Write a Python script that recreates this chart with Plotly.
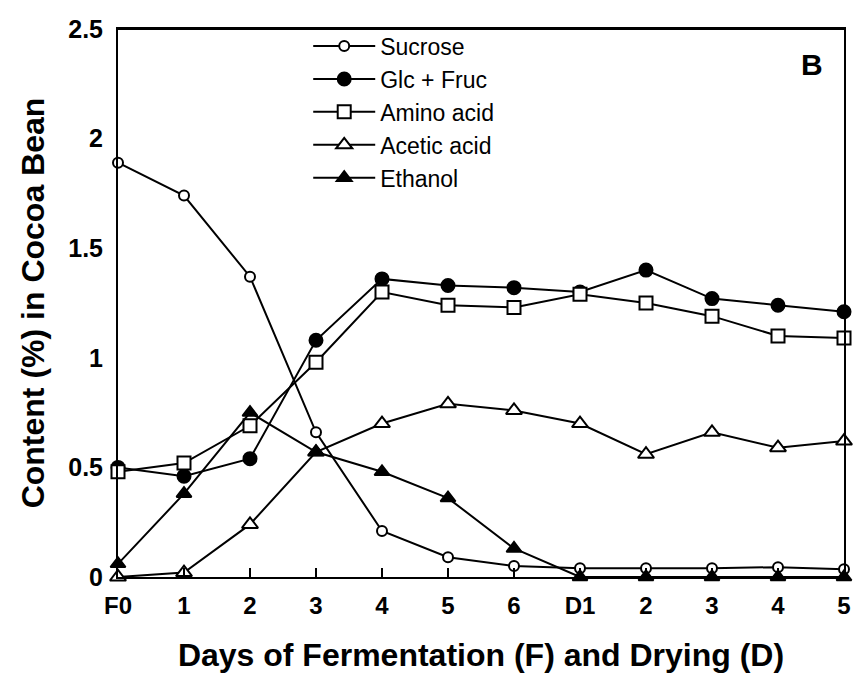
import plotly.graph_objects as go

tick_labels = ["F0", "1", "2", "3", "4", "5", "6", "D1", "2", "3", "4", "5"]
x_pos = list(range(len(tick_labels)))

sucrose = [1.89, 1.74, 1.37, 0.66, 0.21, 0.09, 0.05, 0.04, 0.04, 0.04, 0.045, 0.035]
glc_fruc = [0.50, 0.46, 0.54, 1.08, 1.36, 1.33, 1.32, 1.30, 1.40, 1.27, 1.24, 1.21]
amino_acid = [0.48, 0.52, 0.69, 0.98, 1.30, 1.24, 1.23, 1.29, 1.25, 1.19, 1.10, 1.09]
acetic_acid = [0.0, 0.02, 0.24, 0.57, 0.70, 0.79, 0.76, 0.70, 0.56, 0.66, 0.59, 0.62]
ethanol = [0.06, 0.38, 0.75, 0.57, 0.48, 0.36, 0.13, 0.0, 0.0, 0.0, 0.0, 0.0]

series = [
    ("Sucrose", sucrose, "circle", 10, "white"),
    ("Glc + Fruc", glc_fruc, "circle", 13, "black"),
    ("Amino acid", amino_acid, "square", 13, "white"),
    ("Acetic acid", acetic_acid, "triangle-up", 14, "white"),
    ("Ethanol", ethanol, "triangle-up", 13, "black"),
]

fig = go.Figure()
for i, (name, vals, sym, sz, fill) in enumerate(series):
    fig.add_trace(go.Scatter(
        x=x_pos, y=vals, name=name, mode="lines+markers",
        legendgroup="g%d" % i,
        line=dict(color="black", width=2),
        marker=dict(symbol=sym, size=sz, color=fill,
                    line=dict(color="black", width=2)),
        cliponaxis=False,
    ))

font_family = "Liberation Sans, Arial, sans-serif"

fig.update_layout(
    width=850, height=669,
    margin=dict(l=110, r=7, t=14, b=100),
    paper_bgcolor="white", plot_bgcolor="white",
    font=dict(family=font_family, color="black"),
    showlegend=True,
    legend=dict(x=0.262, y=1.008, xanchor="left", yanchor="top",
                bgcolor="rgba(0,0,0,0)", font=dict(size=23, family=font_family),
                tracegroupgap=0, itemwidth=62),
    xaxis=dict(
        range=[0, 11], tickmode="array", tickvals=x_pos, ticktext=tick_labels,
        showgrid=False, zeroline=False, showline=True, linecolor="black", linewidth=2,
        mirror=True, ticks="inside", ticklen=9, tickwidth=2, tickcolor="black",
        ticklabelstandoff=6,
        tickfont=dict(size=24, family=font_family, weight="bold"),
        title=dict(text="Days of Fermentation (F) and Drying (D)",
                   font=dict(size=32, family=font_family, weight="bold"), standoff=26),
    ),
    yaxis=dict(
        range=[0, 2.5], tickmode="array", tickvals=[0, 0.5, 1, 1.5, 2, 2.5],
        ticktext=["0", "0.5", "1", "1.5", "2", "2.5"],
        showgrid=False, zeroline=False, showline=True, linecolor="black", linewidth=2,
        mirror=True, ticks="", ticklabelstandoff=8, ticklabeloverflow="allow",
        tickfont=dict(size=25, family=font_family, weight="bold"),
        title=dict(text="Content (%) in Cocoa Bean",
                   font=dict(size=32, family=font_family, weight="bold"), standoff=14),
    ),
    shapes=[dict(type="line", xref="paper", yref="paper", x0=0, x1=1, y0=1, y1=1,
                 line=dict(color="black", width=2))],
    annotations=[dict(text="<b>B</b>", x=0.956, y=0.936, xref="paper", yref="paper",
                      xanchor="center", yanchor="middle", showarrow=False,
                      font=dict(size=30, family=font_family))],
)

fig.write_html("out.html")
